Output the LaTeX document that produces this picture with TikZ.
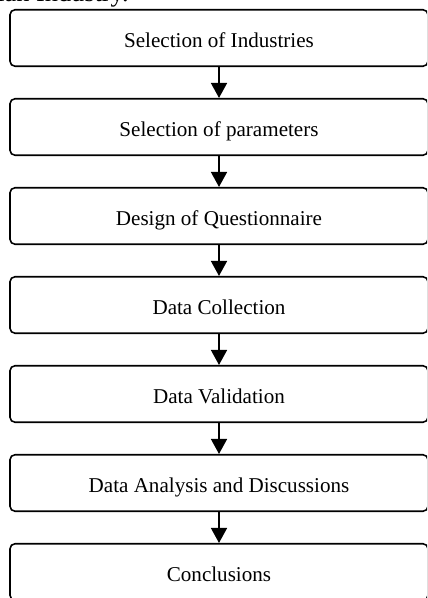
\documentclass[tikz,border=0pt]{standalone}
\usepackage{fontspec}
\setmainfont{Liberation Serif}
\usetikzlibrary{arrows.meta}

\begin{document}
\begin{tikzpicture}
	\tikzset{>={Triangle[width=0.32cm,length=0.3cm]}}
	\tikzset{stage/.style={draw, rounded corners=0.1cm, line width=0.9pt, minimum width=8.36cm, minimum height=1.13cm, text height=0.38cm, text depth=0pt, font=\fontsize{12}{14}\selectfont}}
	% page frame: the boxes run past the right and bottom edges
	\useasboundingbox (0,0) rectangle (8.54,-11.96);
	\clip (0,0) rectangle (8.54,-11.96);
	\node[anchor=base east, font=\fontsize{15}{18}\selectfont] (head) at (2.7,-0.03) {Indian Industry.};
	\node[stage] (indus) at (4.38,-0.76) {Selection of Industries};
	\node[stage] (param) at (4.38,-2.54) {Selection of parameters};
	\node[stage] (quest) at (4.38,-4.32) {Design of Questionnaire};
	\node[stage] (collect) at (4.38,-6.10) {Data Collection};
	\node[stage] (valid) at (4.38,-7.88) {Data Validation};
	\node[stage] (analysis) at (4.38,-9.66) {Data Analysis and Discussions};
	\node[stage] (concl) at (4.38,-11.44) {Conclusions};
	\draw[->, line width=0.9pt] (indus) -- (param);
	\draw[->, line width=0.9pt] (param) -- (quest);
	\draw[->, line width=0.9pt] (quest) -- (collect);
	\draw[->, line width=0.9pt] (collect) -- (valid);
	\draw[->, line width=0.9pt] (valid) -- (analysis);
	\draw[->, line width=0.9pt] (analysis) -- (concl);
\end{tikzpicture}
\end{document}
